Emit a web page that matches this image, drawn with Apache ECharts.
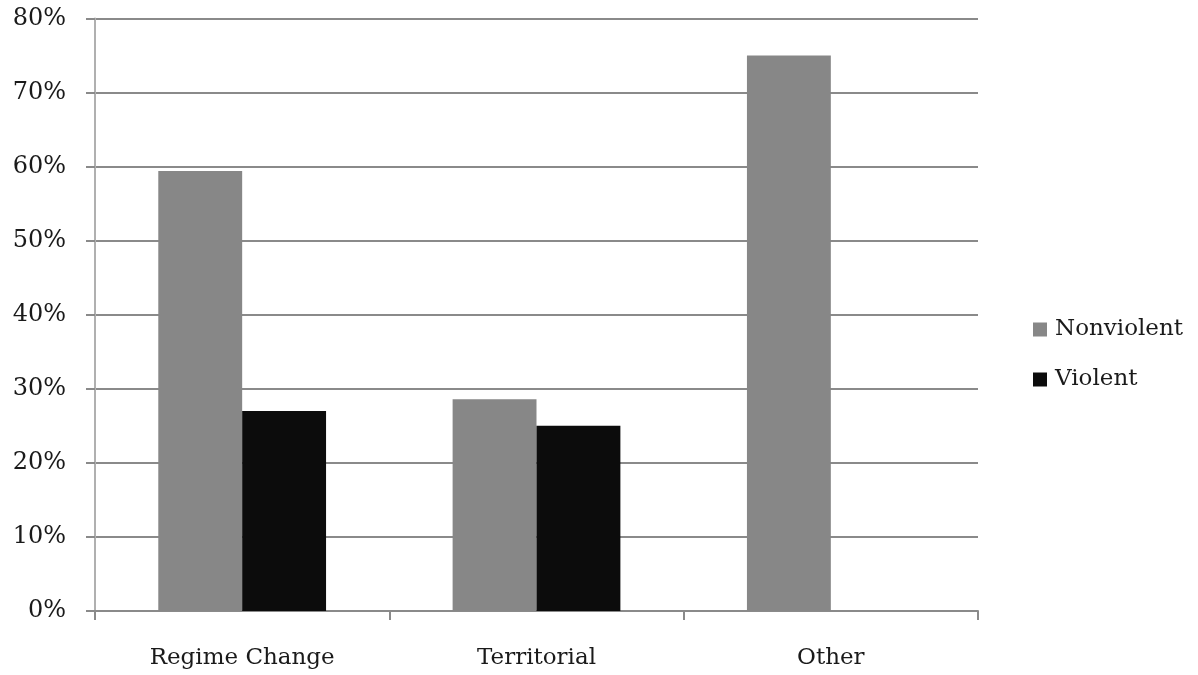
<!DOCTYPE html>
<html>
<head>
<meta charset="utf-8">
<script src="https://cdn.jsdelivr.net/npm/echarts@6/dist/echarts.min.js"></script>
<style>
html,body{margin:0;padding:0;background:#fff;}
#main{width:1198px;height:675px;}
</style>
</head>
<body>
<div id="main"></div>
<script>
const categories = ['Regime Change', 'Territorial', 'Other'];
const nonviolent = [59.4, 28.6, 75.0];
const violent = [27.0, 25.0, 0];
const yTicks = [0, 10, 20, 30, 40, 50, 60, 70, 80];

const FONT = '"DejaVu Serif", "Liberation Serif", serif';
const chart = echarts.init(document.getElementById('main'));
chart.setOption({
  backgroundColor: '#fff',
  animation: false,
  grid: { left: 95, right: 220, top: 18.5, bottom: 64 },
  legend: {
    orient: 'vertical',
    left: 1028,
    top: 313,
    itemWidth: 14,
    itemHeight: 14,
    itemGap: 27,
    icon: 'rect',
    textStyle: { fontFamily: FONT, fontSize: 23, color: '#1a1a1a', padding: [0, 0, 0, 3] },
    data: ['Nonviolent', 'Violent']
  },
  xAxis: {
    type: 'category',
    data: categories,
    axisLine: { lineStyle: { color: '#8a8a8a', width: 2 } },
    axisTick: { show: true, length: 9, lineStyle: { color: '#8a8a8a', width: 2 } },
    axisLabel: { fontFamily: FONT, fontSize: 23, color: '#1a1a1a', margin: 36 }
  },
  yAxis: {
    type: 'value',
    min: 0,
    max: 80,
    interval: 10,
    axisLine: { show: true, lineStyle: { color: '#b0b0b0', width: 2 } },
    axisTick: { show: true, length: 9, lineStyle: { color: '#8a8a8a', width: 2 } },
    splitLine: { lineStyle: { color: '#8a8a8a', width: 2 } },
    axisLabel: {
      fontFamily: FONT, fontSize: 24, color: '#1a1a1a', margin: 29,
      formatter: v => yTicks.includes(v) ? v + '%' : ''
    }
  },
  series: [
    {
      name: 'Nonviolent', type: 'bar', data: nonviolent,
      itemStyle: { color: '#878787' },
      barGap: '0%', barCategoryGap: '43%'
    },
    {
      name: 'Violent', type: 'bar', data: violent,
      itemStyle: { color: '#0c0c0c' },
      barGap: '0%', barCategoryGap: '43%'
    }
  ]
});
</script>
</body>
</html>
